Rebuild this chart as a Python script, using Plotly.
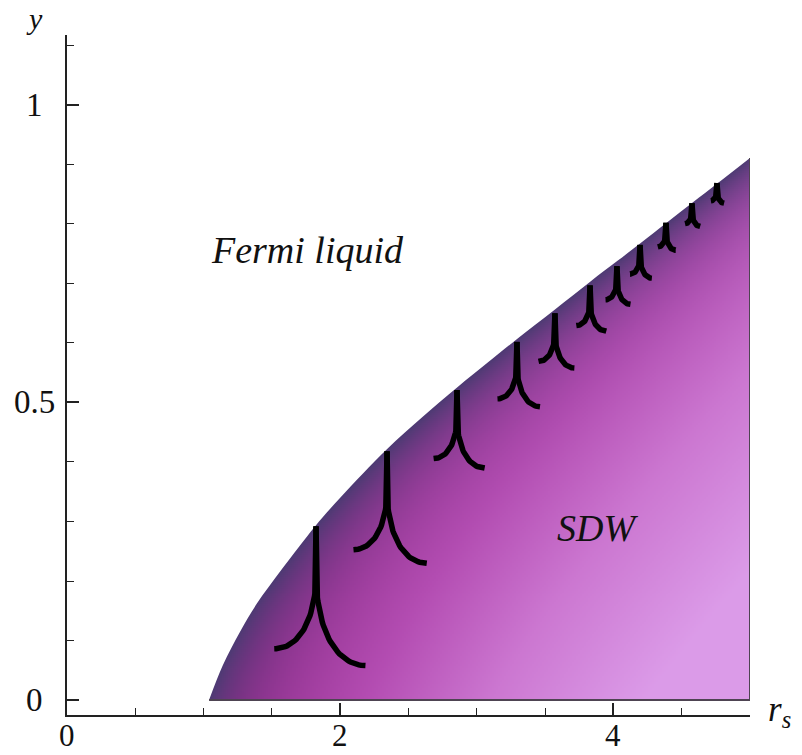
import numpy as np
import plotly.graph_objects as go

# ---------------- data ----------------
boundary_x = [1.04, 1.14, 1.27, 1.39, 1.56, 1.70, 1.82, 2.00, 2.34, 2.60, 2.86,
              3.08, 3.29, 3.57, 3.83, 4.03, 4.20, 4.39, 4.58, 4.76, 5.00]
boundary_y = [0.000, 0.058, 0.116, 0.162, 0.216, 0.258, 0.293, 0.340, 0.421, 0.475, 0.526,
              0.567, 0.606, 0.656, 0.703, 0.738, 0.768, 0.802, 0.836, 0.868, 0.911]

cusp_x = [1.823, 2.343, 2.855, 3.294, 3.572, 3.829, 4.026, 4.195, 4.385, 4.575, 4.758]
cusp_y = [0.292, 0.418, 0.521, 0.602, 0.650, 0.697, 0.729, 0.765, 0.802, 0.835, 0.869]
cusp_h = [0.234, 0.188, 0.131, 0.109, 0.092, 0.077, 0.064, 0.056, 0.046, 0.039, 0.034]

x_tick_vals = [0, 2, 4]
x_tick_text = ["0", "2", "4"]
y_tick_vals = [0, 0.5, 1]
y_tick_text = ["0", "0.5", "1"]

region_text = ["Fermi liquid", "SDW"]
region_x = [1.757, 3.887]
region_y = [0.756, 0.289]

# ---------------- layout geometry ----------------
OFF = 8                     # page body margin of the html page
W, H = 802, 755
ML, MT = 67 - OFF, 35 - OFF
PW, PH = 683, 680
MR, MB = W - ML - PW, H - MT - PH
XR = [0.0, 5.0]
YR = [-0.0252, 1.1176]
SX = PW / (XR[1] - XR[0])
SY = PH / (YR[1] - YR[0])

def paper_x(screen_x):
    return (screen_x - OFF - ML) / PW

def paper_y(screen_y):
    return (MT + PH - (screen_y - OFF)) / PH

FONT = "Liberation Serif"

# ---------------- shaded region (image under a white mask) ----------------
x_lo, x_hi, y_hi = 1.0, 5.0, 0.93
nx, ny = 273, 277
dx, dy = (x_hi - x_lo) / nx, y_hi / ny
gx = x_lo + (np.arange(nx) + 0.5) * dx
gy = (np.arange(ny) + 0.5) * dy
GX, GY = np.meshgrid(gx, gy)
PX, PY = GX * SX, GY * SY

bx = np.array(boundary_x) * SX
by = np.array(boundary_y) * SY
dist = np.full(PX.shape, np.inf)
for i in range(len(bx) - 1):
    ax_, ay_ = bx[i], by[i]
    vx, vy = bx[i + 1] - ax_, by[i + 1] - ay_
    t = ((PX - ax_) * vx + (PY - ay_) * vy) / (vx * vx + vy * vy)
    t = np.clip(t, 0, 1)
    d = np.hypot(PX - (ax_ + t * vx), PY - (ay_ + t * vy))
    dist = np.minimum(dist, d)

def hex2rgb(h):
    h = h.lstrip("#")
    return np.array([int(h[i:i + 2], 16) for i in (0, 2, 4)], dtype=float)

stops = [0.0, 0.35, 0.65, 1.0]
stop_cols = [hex2rgb(c) for c in ["#962d8f", "#b54db3", "#cc77d1", "#dc9ce9"]]
dark = hex2rgb("#4e3b74")

xfrac = (GX - boundary_x[0]) / (boundary_x[-1] - boundary_x[0])
L = np.clip(dist / 470 + 0.36 * xfrac - 0.06, 0, 1)
interior = np.stack([np.interp(L, stops, [c[k] for c in stop_cols]) for k in range(3)], axis=-1)
band = (1 - np.exp(-dist / 32))[..., None]
rgb = dark * (1 - band) + interior * band
rgb = np.clip(rgb, 0, 255).astype(np.uint8)

fig = go.Figure()
fig.add_trace(go.Image(z=rgb.tolist(), x0=x_lo + dx / 2, dx=dx, y0=dy / 2, dy=dy,
                       zsmooth="fast", hoverinfo="skip"))

# boundary (invisible) + white mask above it
fig.add_trace(go.Scatter(x=boundary_x, y=boundary_y, mode="lines",
                         line=dict(width=0, shape="spline", smoothing=1.0, color="white"),
                         hoverinfo="skip", showlegend=False))
fig.add_trace(go.Scatter(x=[0.9, 0.9, 5.1, 5.1], y=[0, 1.0, 1.0, boundary_y[-1]],
                         mode="lines", line=dict(width=0, color="white"),
                         fill="tonexty", fillcolor="white",
                         hoverinfo="skip", showlegend=False))

# bottom and right edges of the region
fig.add_trace(go.Scatter(x=[boundary_x[0], boundary_x[-1], boundary_x[-1]],
                         y=[0, 0, boundary_y[-1]], mode="lines",
                         line=dict(width=2, color="#4e4452"),
                         hoverinfo="skip", showlegend=False))

# ---------------- cusps ----------------
tt = np.linspace(0, 1, 40)
def bez(p0, p1, p2, p3):
    a = (1 - tt) ** 3; b = 3 * (1 - tt) ** 2 * tt; c = 3 * (1 - tt) * tt ** 2; d = tt ** 3
    return a * p0 + b * p1 + c * p2 + d * p3

cx_all, cy_all = [], []
for x0, y0, h in zip(cusp_x, cusp_y, cusp_h):
    hp = h * SY
    s = 0.34 * hp                      # straight stem length (px)
    for ex, ey in [(-0.30 * hp, 0.88 * hp), (0.355 * hp, 1.0 * hp)]:
        bxp = np.concatenate([[0.0], bez(0, 0, 0.4 * ex, ex)])
        byp = np.concatenate([[0.0], bez(s, s + 0.6 * (ey - s), ey, ey)])
        cx_all += list(x0 + bxp / SX) + [None]
        cy_all += list(y0 - byp / SY) + [None]

fig.add_trace(go.Scatter(x=cx_all, y=cy_all, mode="lines",
                         line=dict(color="black", width=5.5),
                         hoverinfo="skip", showlegend=False))

# ---------------- annotations ----------------
ann = []
for t, x, y in zip(region_text, region_x, region_y):
    ann.append(dict(x=x, y=y, xref="x", yref="y", text=f"<i>{t}</i>", showarrow=False,
                    font=dict(family=FONT, size=38, color="#111"),
                    xanchor="center", yanchor="middle"))
for v, t in zip(y_tick_vals, y_tick_text):
    ann.append(dict(x=paper_x(34), y=v, xref="paper", yref="y", text=t, showarrow=False,
                    font=dict(family=FONT, size=33, color="#111"),
                    xanchor="center", yanchor="middle"))
for v, t in zip(x_tick_vals, x_tick_text):
    ann.append(dict(x=v, y=paper_y(736), xref="x", yref="paper", text=t, showarrow=False,
                    font=dict(family=FONT, size=31, color="#111"),
                    xanchor="center", yanchor="middle", borderpad=0))
ann.append(dict(x=paper_x(34), y=paper_y(1), xref="paper", yref="paper",
                text="<i>y</i>", showarrow=False,
                font=dict(family=FONT, size=30, color="#111"),
                xanchor="center", yanchor="top", borderpad=0))
ann.append(dict(x=paper_x(767), y=paper_y(711), xref="paper", yref="paper",
                text="<i>r<sub>s</sub></i>", showarrow=False,
                font=dict(family=FONT, size=35, color="#111"),
                xanchor="left", yanchor="middle", borderpad=0))

axis_common = dict(showline=True, linecolor="#222", linewidth=1.8, ticks="inside",
                   tickcolor="#222", tickwidth=1.6, ticklen=12, showgrid=False,
                   zeroline=False, mirror=False, automargin=False, showticklabels=False)

fig.update_layout(
    width=W, height=H, margin=dict(l=ML, r=MR, t=MT, b=MB, autoexpand=False),
    paper_bgcolor="white", plot_bgcolor="white",
    xaxis=dict(range=XR, tickmode="array", tickvals=x_tick_vals,
               minor=dict(ticks="inside", dtick=0.5, tick0=0, ticklen=7,
                          tickcolor="#222", tickwidth=1.4),
               constrain="range",
               **axis_common),
    yaxis=dict(range=YR, tickmode="array", tickvals=y_tick_vals,
               minor=dict(ticks="inside", dtick=0.1, tick0=0, ticklen=7,
                          tickcolor="#222", tickwidth=1.4),
               scaleanchor=False, constrain="range",
               **axis_common),
    annotations=ann,
    showlegend=False,
)

fig.write_html("out.html")
